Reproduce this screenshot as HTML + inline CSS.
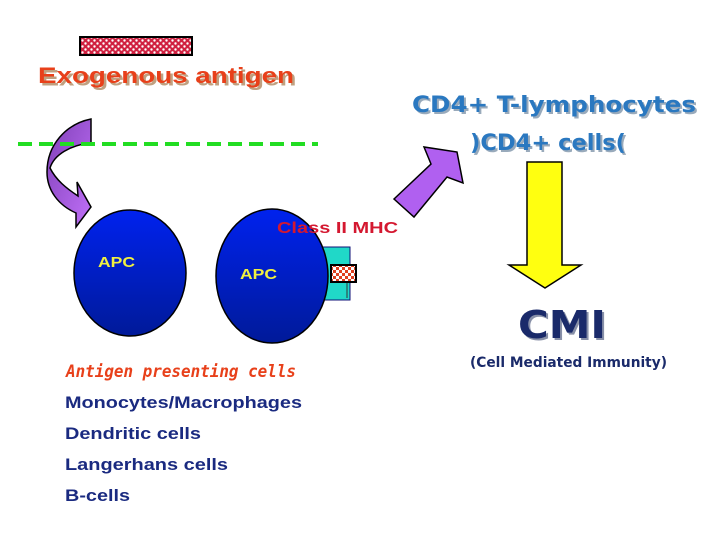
<!DOCTYPE html>
<html><head><meta charset="utf-8"><style>html,body{margin:0;padding:0;background:#fff}svg{display:block}</style></head>
<body>
<svg width="720" height="540" viewBox="0 0 720 540" xmlns="http://www.w3.org/2000/svg">
<defs>
<pattern id="chk" width="6" height="6" patternUnits="userSpaceOnUse">
<rect width="6" height="6" fill="#d02040"/>
<circle cx="1.5" cy="1.5" r="1.2" fill="#fff"/><circle cx="4.5" cy="4.5" r="1.2" fill="#fff"/>
</pattern>
<pattern id="chk2" width="6" height="6" patternUnits="userSpaceOnUse">
<rect width="6" height="6" fill="#e04020"/>
<rect x="0" y="0" width="3" height="3" fill="#fff"/><rect x="3" y="3" width="3" height="3" fill="#fff"/>
</pattern>
<linearGradient id="blue" x1="0" y1="0" x2="0" y2="1">
<stop offset="0" stop-color="#0022ee"/><stop offset="1" stop-color="#001a99"/>
</linearGradient>
<linearGradient id="purp" x1="0" y1="0" x2="1" y2="1">
<stop offset="0" stop-color="#8040b8"/><stop offset="1" stop-color="#c070f8"/>
</linearGradient>
</defs>

<rect x="80" y="37" width="112" height="18" fill="url(#chk)" stroke="#000" stroke-width="2"/>
<text x="39" y="84" font-family="Liberation Sans, sans-serif" font-weight="bold" font-size="22" fill="#c0a080" textLength="256" lengthAdjust="spacingAndGlyphs" dx="1.5" dy="1.5">Exogenous antigen</text>
<text x="38" y="83" font-family="Liberation Sans, sans-serif" font-weight="bold" font-size="22" fill="#e8401a" textLength="256" lengthAdjust="spacingAndGlyphs">Exogenous antigen</text>

<!-- curved purple arrow -->
<path d="M91,119 L91,143 C70,145 54,155 50,168 C56,180 66,188 78,196 L77,182 L91,207 L76,227 L76,213 C58,205 47,190 47,172 C47,145 66,124 91,119 Z" fill="url(#purp)" stroke="#000" stroke-width="1.5"/>

<line x1="18" y1="144" x2="318" y2="144" stroke="#22dd22" stroke-width="4" stroke-dasharray="14 7"/>

<ellipse cx="130" cy="273" rx="56" ry="63" fill="url(#blue)" stroke="#000" stroke-width="1.5"/>
<rect x="323" y="247" width="27" height="53" fill="#20d8c8" stroke="#117" stroke-width="1"/>
<ellipse cx="272" cy="276" rx="56" ry="67" fill="url(#blue)" stroke="#000" stroke-width="1.5"/>
<line x1="347" y1="282" x2="347" y2="298" stroke="#333" stroke-width="1"/>
<rect x="331" y="265" width="25" height="17" fill="url(#chk2)" stroke="#000" stroke-width="2"/>
<text x="98" y="267" font-family="Liberation Sans, sans-serif" font-weight="bold" font-size="15" fill="#f0f040" textLength="37" lengthAdjust="spacingAndGlyphs">APC</text>
<text x="240" y="279" font-family="Liberation Sans, sans-serif" font-weight="bold" font-size="15" fill="#f0f040" textLength="37" lengthAdjust="spacingAndGlyphs">APC</text>
<text x="277" y="233" font-family="Liberation Sans, sans-serif" font-weight="bold" font-size="16" fill="#d41830" textLength="121" lengthAdjust="spacingAndGlyphs">Class II MHC</text>

<polygon points="394,199 431,164 424,147 457,152 463,183 447,177 414,217" fill="#b060f0" stroke="#000" stroke-width="1.5"/>

<text x="414" y="114" font-family="DejaVu Sans, sans-serif" font-weight="bold" font-size="22" fill="#9ab" textLength="284" lengthAdjust="spacingAndGlyphs">CD4+ T-lymphocytes</text>
<text x="412" y="112" font-family="DejaVu Sans, sans-serif" font-weight="bold" font-size="22" fill="#2a78c0" textLength="284" lengthAdjust="spacingAndGlyphs">CD4+ T-lymphocytes</text>
<text x="472" y="152" font-family="DejaVu Sans, sans-serif" font-weight="bold" font-size="22" fill="#9ab" textLength="156" lengthAdjust="spacingAndGlyphs">)CD4+ cells(</text>
<text x="470" y="150" font-family="DejaVu Sans, sans-serif" font-weight="bold" font-size="22" fill="#2a78c0" textLength="156" lengthAdjust="spacingAndGlyphs">)CD4+ cells(</text>

<polygon points="527,162 562,162 562,265 581,265 545,288 509,265 527,265" fill="#ffff10" stroke="#000" stroke-width="1.5"/>

<text x="520" y="340" font-family="DejaVu Sans, sans-serif" font-weight="bold" font-size="38" fill="#8890a8" textLength="88" lengthAdjust="spacingAndGlyphs">CMI</text>
<text x="518" y="338" font-family="DejaVu Sans, sans-serif" font-weight="bold" font-size="38" fill="#1a2a6a" textLength="88" lengthAdjust="spacingAndGlyphs">CMI</text>
<text x="470" y="367" font-family="DejaVu Sans, sans-serif" font-weight="bold" font-size="14" fill="#1a2a6a" textLength="197" lengthAdjust="spacingAndGlyphs">(Cell Mediated Immunity)</text>

<text x="66" y="377" font-family="DejaVu Sans Mono, monospace" font-weight="bold" font-style="italic" font-size="17" fill="#e8401a" textLength="230" lengthAdjust="spacingAndGlyphs">Antigen presenting cells</text>
<g font-family="Liberation Sans, sans-serif" font-weight="bold" font-size="17" fill="#1a2a80">
<text x="65" y="408" textLength="237" lengthAdjust="spacingAndGlyphs">Monocytes/Macrophages</text>
<text x="65" y="439" textLength="136" lengthAdjust="spacingAndGlyphs">Dendritic cells</text>
<text x="65" y="470" textLength="163" lengthAdjust="spacingAndGlyphs">Langerhans cells</text>
<text x="65" y="501" textLength="65" lengthAdjust="spacingAndGlyphs">B-cells</text>
</g>
</svg>
</body></html>
